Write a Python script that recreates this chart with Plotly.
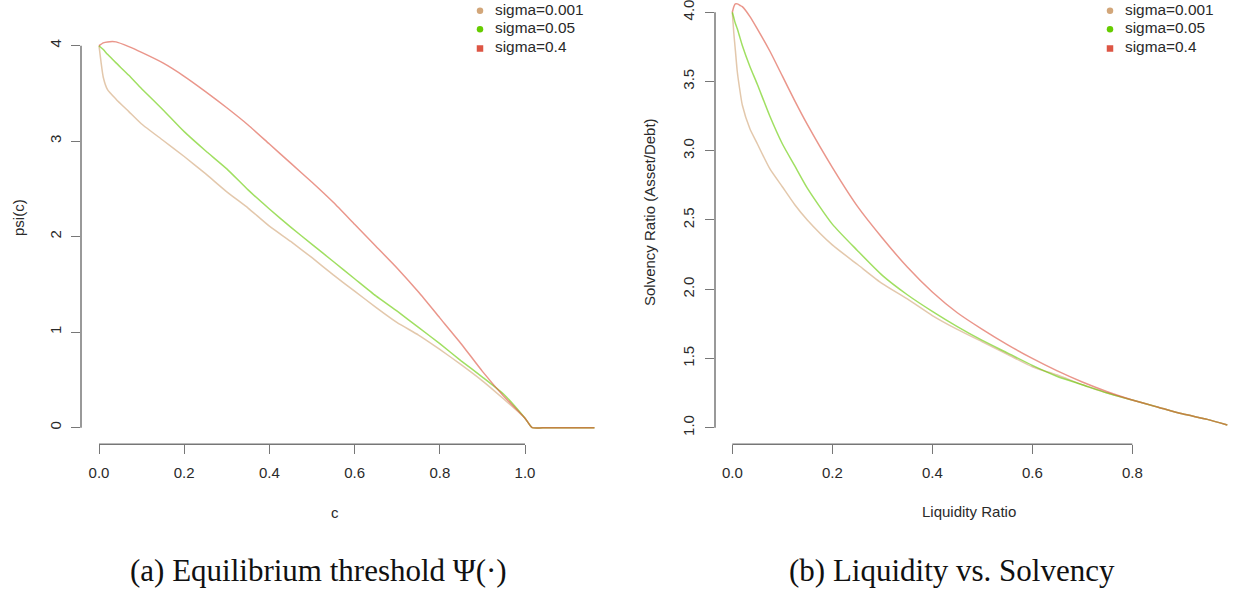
import plotly.graph_objects as go

# ---------------- data ----------------
series_names = ["sigma=0.001", "sigma=0.05", "sigma=0.4"]

c_vals = [0, 0.01, 0.02, 0.04, 0.07, 0.1, 0.15, 0.2, 0.25, 0.3, 0.35, 0.4, 0.45,
          0.5, 0.55, 0.6, 0.65, 0.7, 0.75, 0.8, 0.85, 0.9, 0.95, 1.0, 1.017,
          1.05, 1.1, 1.163]
psi_s001 = [4.0, 3.67, 3.54, 3.44, 3.31, 3.18, 3.01, 2.84, 2.66, 2.47, 2.30, 2.11,
            1.95, 1.78, 1.60, 1.43, 1.26, 1.10, 0.97, 0.82, 0.66, 0.49, 0.30,
            0.10, 0.0, 0.0, 0.0, 0.0]
psi_s05 = [4.0, 3.96, 3.91, 3.82, 3.69, 3.55, 3.33, 3.10, 2.90, 2.71, 2.49, 2.29,
           2.10, 1.92, 1.74, 1.56, 1.38, 1.22, 1.05, 0.88, 0.70, 0.53, 0.35,
           0.10, 0.0, 0.0, 0.0, 0.0]
psi_s4 = [4.0, 4.03, 4.04, 4.04, 3.99, 3.93, 3.82, 3.68, 3.52, 3.35, 3.17, 2.97,
          2.77, 2.57, 2.36, 2.13, 1.90, 1.67, 1.42, 1.15, 0.88, 0.59, 0.33,
          0.10, 0.0, 0.0, 0.0, 0.0]

liq_vals = [0, 0.003, 0.006, 0.01, 0.015, 0.02, 0.035, 0.05, 0.075, 0.1, 0.125,
            0.15, 0.2, 0.25, 0.3, 0.35, 0.4, 0.45, 0.5, 0.55, 0.6, 0.65, 0.7,
            0.75, 0.8, 0.85, 0.9, 0.95, 0.99]
solv_s001 = [4.0, 3.85, 3.73, 3.57, 3.44, 3.33, 3.16, 3.05, 2.87, 2.74, 2.61,
             2.50, 2.32, 2.18, 2.04, 1.93, 1.81, 1.71, 1.62, 1.53, 1.44, 1.38,
             1.31, 1.25, 1.20, 1.15, 1.10, 1.06, 1.02]
solv_s05 = [4.0, 3.96, 3.92, 3.88, 3.82, 3.76, 3.61, 3.48, 3.25, 3.05, 2.89,
            2.73, 2.47, 2.28, 2.10, 1.96, 1.84, 1.73, 1.63, 1.54, 1.45, 1.37,
            1.31, 1.25, 1.20, 1.15, 1.10, 1.06, 1.02]
solv_s4 = [4.0, 4.04, 4.06, 4.06, 4.05, 4.04, 3.97, 3.88, 3.72, 3.54, 3.36,
           3.19, 2.88, 2.60, 2.37, 2.16, 1.98, 1.83, 1.71, 1.60, 1.50, 1.41,
           1.33, 1.26, 1.20, 1.15, 1.10, 1.06, 1.02]

xticks_a = [0.0, 0.2, 0.4, 0.6, 0.8, 1.0]
xtick_labels_a = ["0.0", "0.2", "0.4", "0.6", "0.8", "1.0"]
yticks_a = [0, 1, 2, 3, 4]
ytick_labels_a = ["0", "1", "2", "3", "4"]
xticks_b = [0.0, 0.2, 0.4, 0.6, 0.8]
xtick_labels_b = ["0.0", "0.2", "0.4", "0.6", "0.8"]
yticks_b = [1.0, 1.5, 2.0, 2.5, 3.0, 3.5, 4.0]
ytick_labels_b = ["1.0", "1.5", "2.0", "2.5", "3.0", "3.5", "4.0"]

# ---------------- styles ----------------
W, H = 1233, 593
solid = ["rgb(210,166,121)", "rgb(102,204,0)", "rgb(221,85,68)"]
lines = ["rgba(210,166,121,0.62)", "rgba(102,204,0,0.62)", "rgba(221,85,68,0.62)"]
symbols = ["circle", "circle", "square"]
FONT = "Liberation Sans, Arial, sans-serif"
TXT = "#2a2a2a"
AXC = "#777777"


def px(v):
    return v / W


def py(v):
    return 1 - v / H


fig = go.Figure()

panel_a = [psi_s001, psi_s05, psi_s4]
panel_b = [solv_s001, solv_s05, solv_s4]
for i in range(3):
    fig.add_trace(go.Scatter(x=c_vals, y=panel_a[i], mode="lines",
                             line=dict(color=lines[i], width=1.5, shape="spline", smoothing=0.5),
                             showlegend=False, xaxis="x", yaxis="y"))
    fig.add_trace(go.Scatter(x=liq_vals, y=panel_b[i], mode="lines",
                             line=dict(color=lines[i], width=1.5, shape="spline", smoothing=0.6),
                             showlegend=False, xaxis="x2", yaxis="y2"))

# legend keys drawn on a full-figure pixel axis (x3/y3)
legend_rows_px = [10.7, 29.3, 48.5]
legend_marker_x = {"a": 480, "b": 1110}
legend_text_gap = 15
for key in ["a", "b"]:
    mx = legend_marker_x[key]
    for i in range(3):
        fig.add_trace(go.Scatter(x=[mx], y=[legend_rows_px[i]], mode="markers",
                                 marker=dict(color=solid[i], symbol=symbols[i], size=6.5),
                                 showlegend=False, hoverinfo="skip", xaxis="x3", yaxis="y3"))
    fig.add_trace(go.Scatter(x=[mx + legend_text_gap] * 3, y=legend_rows_px, mode="text",
                             text=series_names, textposition="middle right",
                             textfont=dict(family=FONT, size=15.4, color=TXT),
                             showlegend=False, hoverinfo="skip", xaxis="x3", yaxis="y3"))

# pixel geometry
a_left, a_right, a_top, a_bot = 81, 614, 26.6, 444.3
b_left, b_right, b_top, b_bot = 715, 1233, 0, 444.3
a_x0px, a_xunit = 99, 426.0
a_y0px, a_yunit = 427.7, 95.5
b_x0px, b_xunit = 732.3, 500.0
b_y1px, b_yunit = 427.7, 138.5

ax_common = dict(showgrid=False, zeroline=False, showline=False, ticks="outside",
                 ticklen=9, tickwidth=1.3, tickcolor=AXC, ticklabeloverflow="allow",
                 tickfont=dict(family=FONT, size=15, color=TXT))

fig.update_layout(
    width=W, height=H, margin=dict(l=0, r=0, t=0, b=0),
    paper_bgcolor="white", plot_bgcolor="rgba(0,0,0,0)", showlegend=False,
    xaxis=dict(domain=[px(a_left), px(a_right)], anchor="y",
               range=[(a_left - a_x0px) / a_xunit, (a_right - a_x0px) / a_xunit],
               tickvals=xticks_a, ticktext=xtick_labels_a, ticklabelstandoff=6, **ax_common),
    yaxis=dict(domain=[py(a_bot), py(a_top)], anchor="x",
               range=[(a_y0px - a_bot) / a_yunit, (a_y0px - a_top) / a_yunit],
               tickvals=yticks_a, ticktext=ytick_labels_a, tickangle=-90,
               ticklabelstandoff=4, **ax_common),
    xaxis2=dict(domain=[px(b_left), px(b_right)], anchor="y2",
                range=[(b_left - b_x0px) / b_xunit, (b_right - b_x0px) / b_xunit],
                tickvals=xticks_b, ticktext=xtick_labels_b, ticklabelstandoff=6, **ax_common),
    yaxis2=dict(domain=[py(b_bot), py(b_top)], anchor="x2",
                range=[1 + (b_y1px - b_bot) / b_yunit, 1 + (b_y1px - b_top) / b_yunit],
                tickvals=yticks_b, ticktext=ytick_labels_b, tickangle=-90,
                ticklabelstandoff=5, **ax_common),
    xaxis3=dict(domain=[0, 1], anchor="y3", range=[0, W], visible=False, fixedrange=True),
    yaxis3=dict(domain=[0, 1], anchor="x3", range=[H, 0], visible=False, fixedrange=True),
)

# R-style axis lines spanning only the tick range
shapes = [
    dict(type="line", xref="x", yref="paper", x0=min(xticks_a), x1=max(xticks_a),
         y0=py(a_bot), y1=py(a_bot), line=dict(color=AXC, width=1.5)),
    dict(type="line", xref="paper", yref="y", x0=px(a_left), x1=px(a_left),
         y0=min(yticks_a), y1=max(yticks_a), line=dict(color=AXC, width=1.5)),
    dict(type="line", xref="x2", yref="paper", x0=min(xticks_b), x1=max(xticks_b),
         y0=py(b_bot), y1=py(b_bot), line=dict(color=AXC, width=1.5)),
    dict(type="line", xref="paper", yref="y2", x0=px(b_left), x1=px(b_left),
         y0=min(yticks_b), y1=max(yticks_b), line=dict(color=AXC, width=1.5)),
]
fig.update_layout(shapes=shapes)

ann_font = dict(family=FONT, size=15, color=TXT)
cap_font = dict(family="Liberation Serif, Times New Roman, serif", size=31, color="#111111")
annotations = [
    dict(text="c", x=px(335), y=py(512), xref="paper", yref="paper", showarrow=False,
         xanchor="center", yanchor="middle", font=ann_font),
    dict(text="psi(c)", x=px(18), y=py(218), xref="paper", yref="paper", showarrow=False,
         xanchor="center", yanchor="middle", textangle=-90, font=ann_font),
    dict(text="Liquidity Ratio", x=px(969), y=py(511), xref="paper", yref="paper",
         showarrow=False, xanchor="center", yanchor="middle", font=ann_font),
    dict(text="Solvency Ratio (Asset/Debt)", x=px(650), y=py(212), xref="paper",
         yref="paper", showarrow=False, xanchor="center", yanchor="middle",
         textangle=-90, font=ann_font),
    dict(text="(a) Equilibrium threshold Ψ(·)", x=px(318), y=py(570), xref="paper",
         yref="paper", showarrow=False, xanchor="center", yanchor="middle", font=cap_font),
    dict(text="(b) Liquidity vs. Solvency", x=px(952), y=py(570), xref="paper",
         yref="paper", showarrow=False, xanchor="center", yanchor="middle", font=cap_font),
]
fig.update_layout(annotations=annotations)

fig.write_html("out.html")
